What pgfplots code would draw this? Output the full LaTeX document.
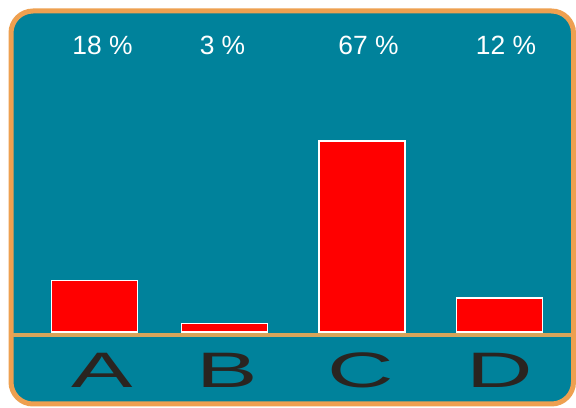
\documentclass[border=0pt]{standalone}
\usepackage{fontspec}
\setmainfont{Liberation Sans}
\usepackage{pgfplots}
\pgfplotsset{compat=1.18}
\definecolor{bgteal}{RGB}{0,130,155}
\definecolor{bord}{RGB}{238,160,80}
\definecolor{basel}{RGB}{215,165,90}
\definecolor{letter}{RGB}{42,36,32}
\begin{document}
\begin{tikzpicture}
\useasboundingbox (0,0) rectangle (576bp,408bp);
\fill[white] (0,0) rectangle (576bp,408bp);
\draw[bord, line width=5bp, fill=bgteal, rounded corners=22bp] (11bp,4bp) rectangle (573.5bp,397bp);
\begin{axis}[
  at={(0,0)}, anchor=south west,
  scale only axis, width=576bp, height=408bp,
  xmin=0, xmax=576, ymin=-26.67, ymax=116.49,
  axis line style={draw=none},
  major tick length=0pt,
  ytick=\empty,
  xtick={102,227,361,500},
  xticklabels={\scalebox{1.85}[1]{A},\scalebox{1.85}[1]{B},\scalebox{1.85}[1]{C},\scalebox{1.85}[1]{D}},
  xticklabel style={anchor=center, yshift=38bp, text=letter, font=\fontsize{50}{50}\selectfont, inner sep=0pt},
  clip=false,
]
\addplot[ybar, bar width=86, fill=red, draw=white, line width=1.5bp] coordinates {
  (94.5,18) (224.5,3) (362,67) (499.5,12)
};
\addplot[draw=none, mark=none, nodes near coords={\pgfplotspointmeta},
  point meta=explicit symbolic,
  nodes near coords style={anchor=center, text=white, font=\fontsize{26.5}{26.5}\selectfont}]
  coordinates {(102.5,100.4) [18 \%] (222.5,100.4) [3 \%] (368.5,100.4) [67 \%] (506,100.4) [12 \%]};
\draw[basel, line width=4bp] (axis cs:13,-1.05) -- (axis cs:571,-1.05);
\end{axis}
\end{tikzpicture}
\end{document}
